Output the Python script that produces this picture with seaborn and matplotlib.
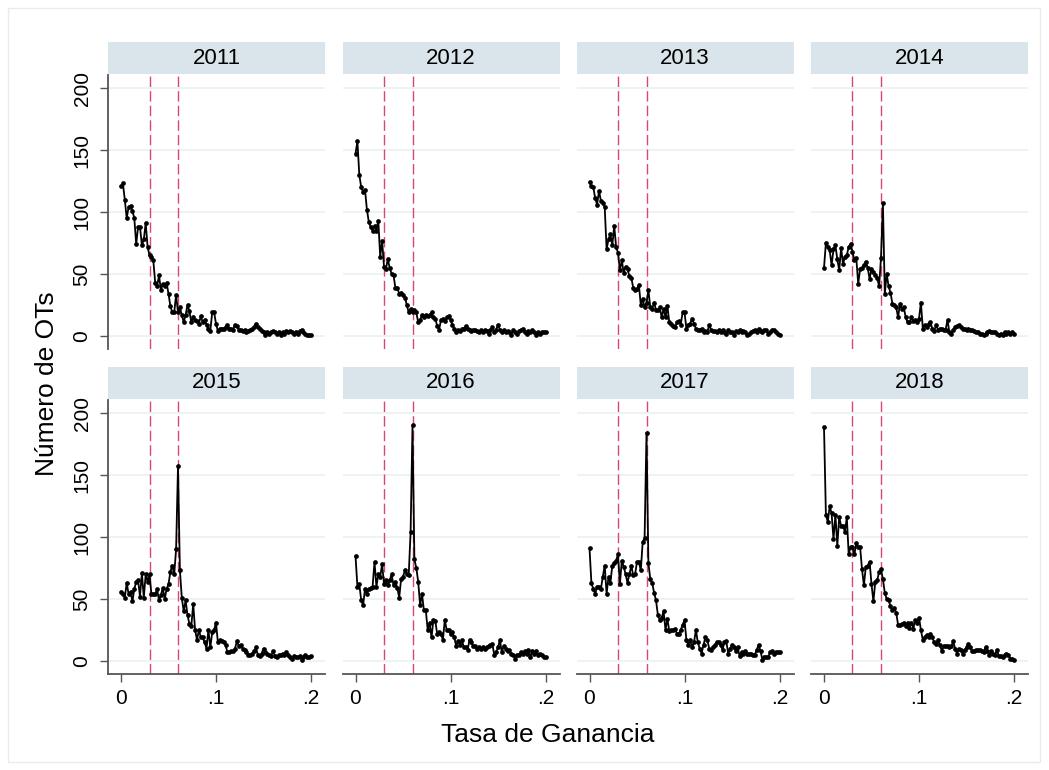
import numpy as np
import pandas as pd
import matplotlib
matplotlib.use("Agg")
import matplotlib.pyplot as plt
import seaborn as sns
from matplotlib.patches import Rectangle

# ---------------- data ----------------
years = ["2011", "2012", "2013", "2014", "2015", "2016", "2017", "2018"]
tasa = np.round(np.arange(101) * 0.002, 3)

n_2011 = [121, 123, 110, 95, 104, 105, 101, 95, 74, 88, 88, 73, 78, 91, 72, 65, 64, 61, 43, 40,
          49, 37, 42, 40, 43, 34, 24, 19, 19, 33, 19, 23, 17, 11, 17, 25, 20, 11, 15, 13,
          12, 10, 16, 11, 13, 9, 6, 4, 19, 19, 10, 4,
          6, 6, 6, 7, 9, 6, 6, 5, 9, 8, 5, 5, 4, 5, 3, 4, 5, 6, 7, 10, 7, 6, 4, 3, 1,
          3, 2, 3, 4, 3, 2, 3, 1, 3, 2, 4, 3, 4, 3, 2, 3, 2, 4, 5, 3, 2, 1, 1, 1]
n_2012 = [147, 157, 130, 120, 116, 118, 102, 92, 88, 85, 89, 85, 93, 64, 77, 56, 54, 62, 55, 50,
          49, 39, 39, 34, 35, 33, 31, 25, 19, 22, 19, 21, 19, 11, 13, 17, 15, 17, 16, 17,
          19, 15, 14, 8, 5, 13, 14, 12, 15, 16, 13, 9,
          6, 3, 5, 4, 6, 6, 8, 6, 5, 4, 5, 5, 4, 3, 5, 3, 5, 4, 2, 5, 7, 3, 5, 9, 5,
          3, 5, 3, 4, 3, 1, 5, 3, 2, 4, 5, 6, 3, 2, 4, 3, 5, 3, 1, 3, 2, 3, 3, 3]
n_2013 = [124, 121, 120, 111, 106, 117, 109, 107, 104, 70, 78, 82, 73, 89, 72, 67, 53, 61, 51, 56,
          54, 48, 47, 39, 37, 38, 41, 25, 30, 23, 27, 37, 23, 22, 27, 21, 21, 23, 15, 22,
          15, 24, 11, 10, 8, 7, 11, 12, 9, 19, 19, 6, 9, 10, 14, 10, 6, 5, 5, 6, 3, 4, 3, 9,
          5, 4, 4, 3, 5, 3, 5, 3, 2, 5, 3, 3, 1, 4, 3, 5, 3, 4, 3, 1,
          2, 3, 4, 5, 3, 6, 4, 3, 5, 5, 2, 3, 5, 5, 3, 2, 1]
n_2014 = [55, 75, 72, 69, 57, 70, 73, 62, 53, 71, 58, 64, 65, 72, 74, 68, 61, 63, 42, 54,
          55, 57, 60, 55, 46, 54, 52, 49, 47, 40, 63, 107, 34, 50, 40, 35, 26, 25, 23, 15,
          26, 22, 23, 15, 11, 11, 15, 12, 13, 11, 14, 27, 6, 9, 7, 10, 11, 6, 4, 9,
          5, 6, 6, 5, 5, 13, 3, 2, 5, 7, 8, 9,
          7, 6, 6, 5, 6, 5, 5, 4, 3, 3, 2, 2, 1, 2, 3, 4, 3, 3, 3, 2, 1, 2, 1, 3, 2, 3, 2, 3, 2]
n_2015 = [56, 54, 51, 63, 54, 56, 48, 58, 64, 65, 52, 71, 51, 70, 64, 70, 54, 54, 54, 58,
          49, 53, 59, 50, 58, 62, 72, 77, 70, 90, 157, 73, 51, 40, 49, 37, 30, 28, 46, 25,
          17, 25, 19, 19, 15, 10, 25, 11, 23, 25, 31, 15, 17, 16, 15, 13, 7, 7, 8, 8,
          10, 16, 12, 13, 10, 9, 7, 5, 5, 6, 8, 11, 5, 4, 6, 10, 7, 6, 5, 4,
          8, 4, 3, 5, 5, 6, 5, 7, 5, 3, 2, 4, 3, 3, 4, 1, 3, 5, 3, 3, 4]
n_2016 = [85, 60, 62, 49, 45, 58, 54, 58, 59, 60, 80, 60, 70, 68, 78, 62, 65, 61, 65, 70,
          61, 64, 59, 51, 66, 68, 73, 70, 69, 104, 190, 82, 75, 64, 45, 54, 41, 41, 25, 31,
          19, 33, 32, 22, 23, 22, 17, 33, 25, 25, 22, 23, 19, 12, 16, 13, 17, 11, 11, 9,
          17, 15, 12, 12, 10, 11, 10, 11, 10, 11, 12, 13, 14, 5, 7, 11, 17, 7, 12, 10,
          8, 9, 6, 5, 2, 5, 5, 7, 6, 8, 6, 9, 3, 8, 6, 8, 5, 6, 5, 3, 3]
n_2017 = [91, 63, 58, 54, 60, 60, 58, 68, 77, 54, 68, 63, 77, 79, 81, 86, 62, 81, 76, 70,
          63, 70, 77, 69, 70, 80, 80, 73, 96, 99, 184, 79, 66, 63, 55, 49, 37, 33, 35, 40,
          25, 34, 24, 25, 25, 26, 22, 22, 25, 29, 33, 17, 13, 17, 11, 15, 25, 15, 10, 6,
          13, 19, 17, 10, 9, 11, 13, 15, 15, 13, 9, 15, 16, 6, 10, 13, 11, 8, 11, 4,
          7, 6, 8, 6, 6, 6, 5, 5, 9, 13, 8, 1, 3, 3, 3, 7, 8, 6, 7, 7, 7]
n_2018 = [189, 118, 112, 125, 119, 98, 118, 93, 116, 109, 109, 104, 116, 86, 92, 92, 86, 95, 92, 92,
          74, 61, 76, 77, 80, 62, 48, 64, 65, 72, 74, 66, 55, 50, 49, 44, 41, 43, 39, 29,
          29, 30, 31, 28, 31, 27, 31, 26, 33, 31, 35, 25, 17, 19, 21, 19, 22, 19, 15, 14,
          17, 13, 8, 12, 12, 12, 11, 12, 16, 10, 6, 10, 9, 6, 9, 11, 14, 11, 8, 8,
          9, 9, 9, 8, 7, 11, 8, 5, 8, 6, 5, 9, 4, 4, 3, 5, 6, 5, 2, 2, 1]

series = {"2011": n_2011, "2012": n_2012, "2013": n_2013, "2014": n_2014,
          "2015": n_2015, "2016": n_2016, "2017": n_2017, "2018": n_2018}

umbrales = [0.03, 0.06]
y_ticks = [0, 50, 100, 150, 200]
x_ticks = [0, 0.1, 0.2]
x_tick_labels = ["0", ".1", ".2"]

# ---------------- style ----------------
sns.set_style("white")
plt.rcParams["font.family"] = ["Liberation Sans", "DejaVu Sans"]
plt.rcParams["text.color"] = "black"

W, H = 1049, 770
fig = plt.figure(figsize=(W / 100, H / 100), dpi=100)

col_left = [108, 342.5, 576.5, 811]
row_top = [75, 400]
ax_w, ax_h = 217, 274
strip_h = 32
axis_col = "#555555"
grid_col = "#EAF0F3"
strip_col = "#D9E5EB"
ref_col = "#D8457A"

for k, yr in enumerate(years):
    r, c = divmod(k, 4)
    left, top = col_left[c], row_top[r]
    ax = fig.add_axes([left / W, (H - top - ax_h) / H, ax_w / W, ax_h / H])
    df = pd.DataFrame({"tasa": tasa, "n": series[yr]})
    for yv in y_ticks:
        ax.axhline(yv, color=grid_col, lw=1.2, zorder=0)
    for xv in umbrales:
        ax.axvline(xv, color=ref_col, lw=1.0, dashes=(7.5, 3), zorder=1)
    sns.lineplot(data=df, x="tasa", y="n", ax=ax, color="black", lw=1.3,
                 marker="o", markersize=3.4, markeredgewidth=0, zorder=3)
    ax.set_xlim(-13 / 950, 0.2 + 14 / 950)
    ax.set_ylim(-10.5, 210.5)
    ax.set_xlabel("")
    ax.set_ylabel("")
    for s in ax.spines.values():
        s.set_visible(False)
    if c == 0:
        ax.spines["left"].set_visible(True)
        ax.spines["left"].set_color(axis_col)
        ax.spines["left"].set_linewidth(1.3)
        ax.set_yticks(y_ticks)
        ax.set_yticklabels([str(v) for v in y_ticks], rotation=90, va="center")
        ax.tick_params(axis="y", left=True, length=5.8, width=1.0, color=axis_col,
                       pad=6, labelsize=15, labelcolor="black")
    else:
        ax.set_yticks([])
    if r == 1:
        ax.spines["bottom"].set_visible(True)
        ax.spines["bottom"].set_color(axis_col)
        ax.spines["bottom"].set_linewidth(1.3)
        ax.set_xticks(x_ticks)
        ax.set_xticklabels(x_tick_labels)
        ax.tick_params(axis="x", bottom=True, length=6, width=1.0, color=axis_col,
                       pad=5, labelsize=15, labelcolor="black")
    else:
        ax.set_xticks([])
    # strip header
    fig.patches.append(Rectangle((left / W, (H - top + 1) / H), ax_w / W, strip_h / H,
                                 transform=fig.transFigure, facecolor=strip_col,
                                 edgecolor="none", zorder=0))
    fig.text((left + ax_w / 2) / W, (H - top + 1 + strip_h / 2) / H, yr,
             ha="center", va="center", fontsize=16, color="black")

fig.text(47 / W, (H - 384) / H, "Número de OTs", rotation=90, ha="center",
         va="center", fontsize=19, color="black")
fig.text(548 / W, (H - 735) / H, "Tasa de Ganancia", ha="center", va="center",
         fontsize=19, color="black")

# outer frame
fig.patches.append(Rectangle((8 / W, 8 / H), 1032 / W, 754 / H, transform=fig.transFigure,
                             facecolor="none", edgecolor="#E6ECEF", lw=1.0, zorder=0))

fig.savefig("out.png", dpi=100)
